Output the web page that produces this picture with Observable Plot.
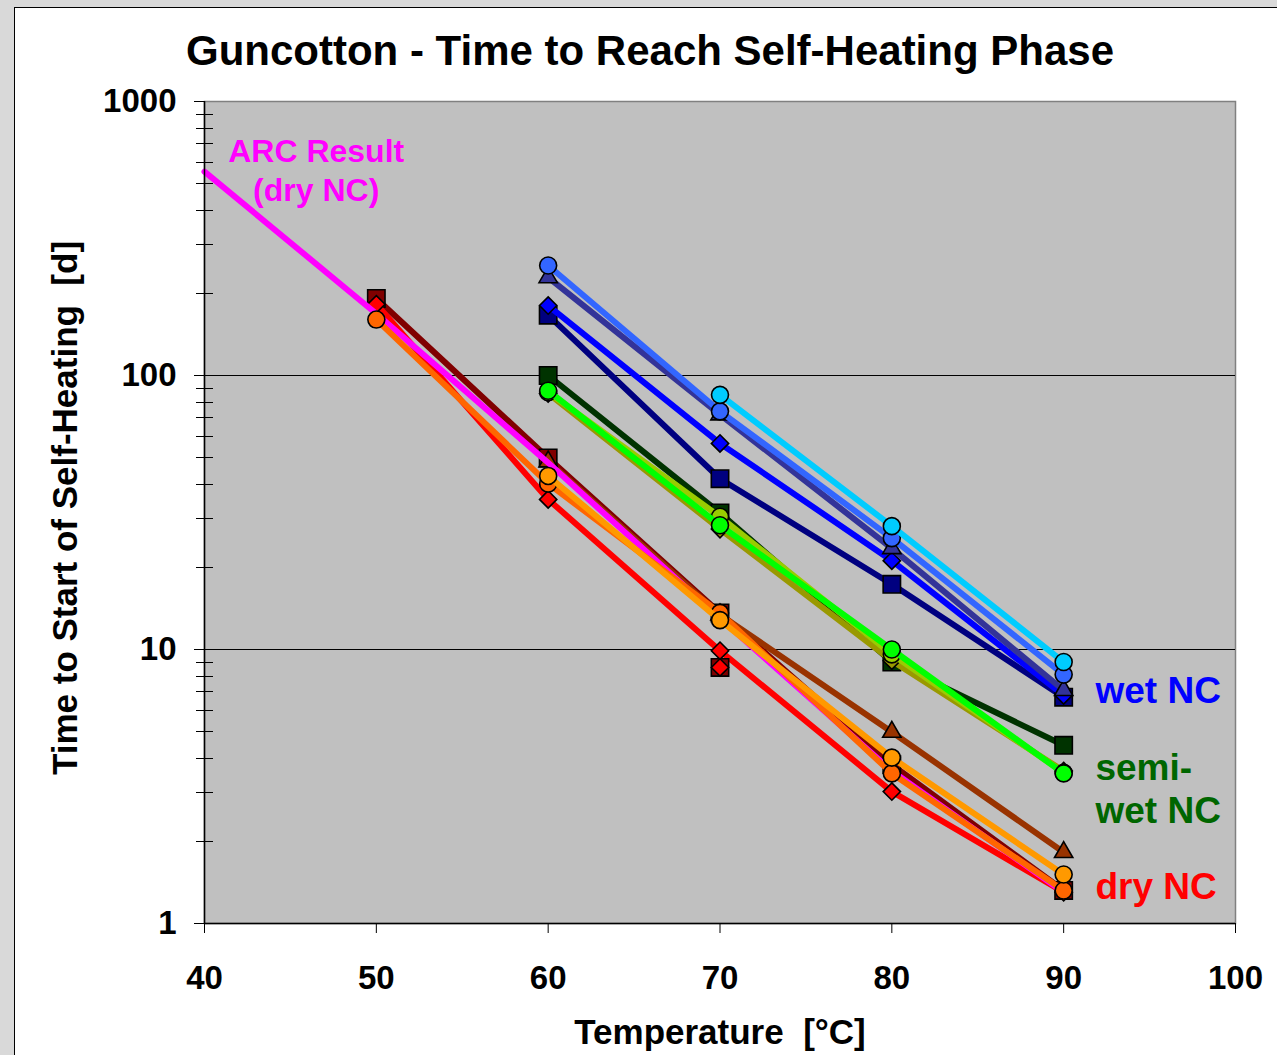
<!DOCTYPE html>
<html>
<head>
<meta charset="utf-8">
<script src="https://cdn.jsdelivr.net/npm/d3@7"></script>
<script src="https://cdn.jsdelivr.net/npm/@observablehq/plot@0.6"></script>
<style>
  html, body { margin: 0; padding: 0; }
  body { width: 1277px; height: 1055px; overflow: hidden; background: #d9d9d9; position: relative;
         font-family: "Liberation Sans", Arial, sans-serif; }
  #panel { position: absolute; left: 14px; top: 7px; width: 1270px; height: 1060px; background: #fff;
           border-left: 1px solid #000; border-top: 1px solid #000; }
  #chart { position: absolute; left: 0; top: 0; }
  .t { position: absolute; white-space: nowrap; font-weight: bold; color: #000; line-height: 1; }
  #title { font-size: 42px; left: 650px; top: 30px; transform: translateX(-50%); }
  #xtitle { font-size: 35px; left: 720px; top: 1014px; transform: translateX(-50%); }
  #ytitle { font-size: 35px; left: 64px; top: 508px; transform: translate(-50%, -50%) rotate(-90deg); }
</style>
</head>
<body>
<div id="panel"></div>
<div id="chart"></div>
<div class="t" id="title">Guncotton - Time to Reach Self-Heating Phase</div>
<div class="t" id="xtitle">Temperature&nbsp; [°C]</div>
<div class="t" id="ytitle">Time to Start of Self-Heating&nbsp; [d]</div>
<script>
// ---- data ----
const temps = [40, 50, 60, 70, 80, 90];
const xTicks = [40, 50, 60, 70, 80, 90, 100];
const yTicks = [1, 10, 100, 1000];
const gridY = [10, 100];

// ARC result (dry NC), line only
const arcDry = [555, 168, 48, 13, 3.6, 1.3];

// wet NC
const wetNavySquare = [null, null, 166, 42, 17.3, 6.7];
const wetBlueDiamond = [null, null, 180, 56.5, 21.1, 6.8];
const wetSlateTriangle = [null, null, 228, 72, 23.4, 7.1];
const wetCornflowerCircle = [null, null, 252, 74, 25.5, 8.1];
const wetCyanCircle = [null, null, null, 85, 28.2, 9.0];

// semi-wet NC
const semiDarkGreenSquare = [null, null, 100, 31.5, 9.0, 4.47];
const semiOliveDiamond = [null, null, 86, 27.5, 9.1, 3.6];
const semiYellowGreenCircle = [null, null, 87, 30.5, 9.6, 3.55];
const semiLimeCircle = [null, null, 88, 28.4, 10.0, 3.53];

// dry NC
const dryDarkRedSquare = [null, 191, 50, 13.6, 3.8, 1.32];
const dryRedDiamond = [null, 182, 35.3, 9.9, 3.03, 1.3];
const dryBrownTriangle = [null, null, 48.5, 13.4, 5.0, 1.82];
const dryDarkOrangeCircle = [null, 160, 40.3, 13.6, 3.53, 1.32];
const dryOrangeCircle = [null, null, 43, 12.8, 4.03, 1.51];
// unconnected points at 70 °C
const extraSquare = [null, null, null, 8.6, null, null];
const extraDiamond = [null, null, null, 8.6, null, null];

// annotation labels
const arcText = ["ARC Result", "(dry NC)"];
const arcX = [46.5, 46.5];
const arcY = [657, 473];
const groupText = ["wet NC", "semi-", "wet NC", "dry NC"];
const groupX = [91.85, 91.85, 91.85, 91.85];
const groupY = [7.03, 3.68, 2.56, 1.353];

// ---- styling config ----
const series = [
  {v: wetNavySquare, color: "#000080", symbol: "square", line: true},
  {v: wetBlueDiamond, color: "#0000ff", symbol: "diamond2", line: true},
  {v: wetSlateTriangle, color: "#333399", symbol: "triangle", line: true},
  {v: wetCornflowerCircle, color: "#3366ff", symbol: "circle", line: true},
  {v: wetCyanCircle, color: "#00ccff", symbol: "circle", line: true},
  {v: semiDarkGreenSquare, color: "#003300", symbol: "square", line: true},
  {v: semiOliveDiamond, color: "#999900", symbol: "diamond2", line: true},
  {v: semiYellowGreenCircle, color: "#99cc00", symbol: "circle", line: true},
  {v: semiLimeCircle, color: "#00ff00", symbol: "circle", line: true},
  {v: dryDarkRedSquare, color: "#800000", symbol: "square", line: true},
  {v: dryRedDiamond, color: "#ff0000", symbol: "diamond2", line: true},
  {v: dryBrownTriangle, color: "#993300", symbol: "triangle", line: true},
  {v: arcDry, color: "#ff00ff", symbol: null, line: true},
  {v: dryDarkOrangeCircle, color: "#ff6600", symbol: "circle", line: true},
  {v: dryOrangeCircle, color: "#ff9900", symbol: "circle", line: true},
  {v: extraSquare, color: "#800000", symbol: "square", line: false},
  {v: extraDiamond, color: "#ff0000", symbol: "diamond2", line: false}
];
const symbolR = {circle: 8.5, square: 9.8, diamond2: 7.8, triangle: 6.8};
const groupColor = ["#0000ff", "#006600", "#006600", "#ff0000"];

const pts = s => temps.map((t, i) => ({x: t, y: s.v[i]})).filter(d => d.y != null);

const yMinor = [];
for (const dec of [1, 10, 100]) for (let k = 2; k <= 9; k++) yMinor.push(k * dec);

const minorTickMark = (index, scales, values, dim) => {
  const ns = "http://www.w3.org/2000/svg";
  const g = document.createElementNS(ns, "g");
  for (const v of yMinor) {
    const y = Math.round(scales.y(v)) + 0.5;
    const l = document.createElementNS(ns, "line");
    l.setAttribute("x1", dim.marginLeft - 8);
    l.setAttribute("x2", dim.marginLeft + 9);
    l.setAttribute("y1", y); l.setAttribute("y2", y);
    l.setAttribute("stroke", "#000"); l.setAttribute("stroke-width", 1);
    g.appendChild(l);
  }
  return g;
};

const marks = [
  Plot.frame({fill: "#c0c0c0", stroke: "#808080", strokeWidth: 1.5}),
  Plot.ruleY(gridY, {stroke: "#000", strokeWidth: 1}),
];
for (const s of series) {
  const d = pts(s);
  if (s.line) marks.push(Plot.line(d, {x: "x", y: "y", stroke: s.color, strokeWidth: 6, strokeLinejoin: "round"}));
  if (s.symbol) marks.push(Plot.dot(d, {x: "x", y: "y", symbol: s.symbol, fill: s.color, stroke: "#000",
                                     strokeWidth: 1.6, r: symbolR[s.symbol]}));
}
marks.push(
  Plot.ruleX([40], {stroke: "#000", strokeWidth: 1.5}),
  Plot.ruleY([1], {stroke: "#000", strokeWidth: 1.5}),
  minorTickMark,
  Plot.axisX({ticks: xTicks, tickSize: 10, tickPadding: 32, tickFormat: d => String(d), label: null,
              fontSize: 33, fontWeight: "bold"}),
  Plot.axisY({ticks: yTicks, tickSize: 10, tickPadding: 18, tickFormat: d => String(d), label: null,
              fontSize: 33, fontWeight: "bold"}),
  Plot.text(arcText.map((t, i) => ({t, x: arcX[i], y: arcY[i]})), {
    x: "x", y: "y", text: "t", fill: "#ff00ff", fontSize: 32, fontWeight: "bold", textAnchor: "middle"
  }),
  Plot.text(groupText.map((t, i) => ({t, x: groupX[i], y: groupY[i], c: groupColor[i]})), {
    x: "x", y: "y", text: "t", fill: "c", fontSize: 37, fontWeight: "bold", textAnchor: "start"
  })
);

const chart = Plot.plot({
  width: 1277, height: 1055,
  marginLeft: 204, marginRight: 42, marginTop: 101, marginBottom: 132,
  x: {domain: [40, 100]},
  y: {type: "log", domain: [1, 1000]},
  style: {fontFamily: "'Liberation Sans', Arial, sans-serif", background: "transparent", color: "#000", overflow: "visible"},
  marks
});
document.getElementById("chart").appendChild(chart);
</script>
</body>
</html>
